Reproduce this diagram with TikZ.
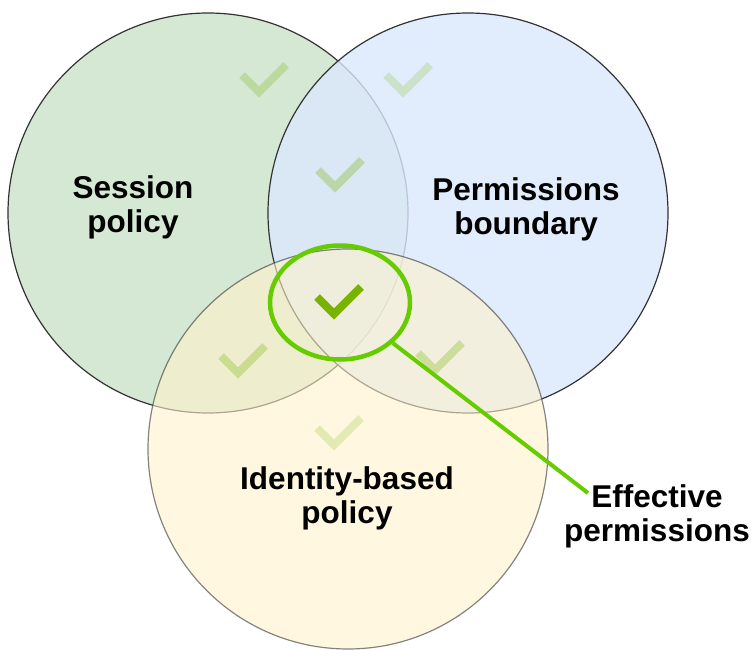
\documentclass[tikz,border=0pt]{standalone}
\usepackage{fontspec}
\setsansfont{Liberation Sans}
\definecolor{sessfill}{HTML}{D5E8D4}
\definecolor{permfill}{HTML}{DAE8FC}
\definecolor{idfill}{HTML}{FFF2CC}
\definecolor{effgreen}{HTML}{66CC00}
\definecolor{tickgreen}{HTML}{77B300}
\definecolor{setline}{HTML}{333333}
\usetikzlibrary{shapes.geometric}

\begin{document}
\begin{tikzpicture}[x=1pt, y=-1pt,
    setc/.style={circle, draw=setline, line width=1.2pt, minimum size=400pt, inner sep=0pt},
    lbl/.style={font=\sffamily\bfseries\fontsize{31.5}{34}\selectfont, align=center},
    checkmk/.style={tickgreen, line width=8pt, line join=miter}]

  \useasboundingbox (0,0) rectangle (755,650);

  % the three policy sets
  \node[setc, fill=sessfill] (session) at (208,213) {};
  \node[setc, fill=permfill, fill opacity=0.8] (perm) at (468,213) {};
  \node[setc, fill=idfill, fill opacity=0.6, draw opacity=0.6] (ident) at (348,449) {};

  % check marks: vertex x / vertex y / opacity
  \foreach \x/\y/\op in {259/92/0.25, 403/92/0.2, 335/187/0.3, 238/373/0.3,
                         435/370/0.3, 334/445/0.2, 334/314/1}
    \draw[checkmk, draw opacity=\op] (\x,\y) ++(-17,-17) -- ++(17,17) -- ++(27,-27);

  % effective permissions
  \node[ellipse, draw=effgreen, line width=4.5pt, minimum width=140pt,
        minimum height=114pt, inner sep=0pt] (effective) at (340,302.5) {};

  \node[lbl] (sesslbl) at (133,207) {Session\\policy};
  \node[lbl] (permlbl) at (526,209) {Permissions\\boundary};
  \node[lbl] (idlbl) at (347,498) {Identity-based\\policy};
  \node[lbl] (efflbl) at (657,516) {Effective\\permissions};

  \coordinate (efftip) at (588,493);
  \draw[effgreen, line width=4pt] (effective) -- (efftip);
\end{tikzpicture}
\end{document}
